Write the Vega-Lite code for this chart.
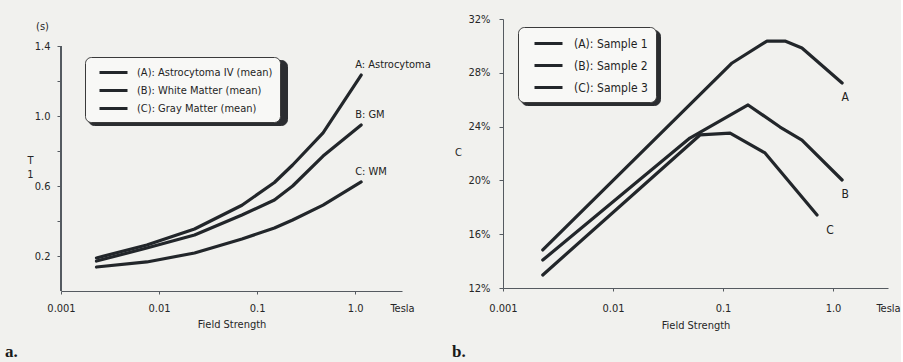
{
  "$schema": "https://vega.github.io/schema/vega-lite/v6.json",
  "background": "#f1f1ee",
  "padding": {"left": 5, "top": 13, "right": 0, "bottom": 3},
  "bounds": "flush",
  "spacing": 101,
  "datasets": {
    "t1": [
      {"series": "(A): Astrocytoma IV (mean)", "field": 0.0023, "t1": 0.189},
      {"series": "(A): Astrocytoma IV (mean)", "field": 0.0075, "t1": 0.263},
      {"series": "(A): Astrocytoma IV (mean)", "field": 0.023, "t1": 0.354},
      {"series": "(A): Astrocytoma IV (mean)", "field": 0.07, "t1": 0.49},
      {"series": "(A): Astrocytoma IV (mean)", "field": 0.15, "t1": 0.62},
      {"series": "(A): Astrocytoma IV (mean)", "field": 0.23, "t1": 0.72},
      {"series": "(A): Astrocytoma IV (mean)", "field": 0.47, "t1": 0.903},
      {"series": "(A): Astrocytoma IV (mean)", "field": 1.15, "t1": 1.234, "tag": "A: Astrocytoma"},
      {"series": "(B): White Matter (mean)", "field": 0.0023, "t1": 0.171},
      {"series": "(B): White Matter (mean)", "field": 0.0075, "t1": 0.246},
      {"series": "(B): White Matter (mean)", "field": 0.023, "t1": 0.32},
      {"series": "(B): White Matter (mean)", "field": 0.07, "t1": 0.434},
      {"series": "(B): White Matter (mean)", "field": 0.15, "t1": 0.52},
      {"series": "(B): White Matter (mean)", "field": 0.23, "t1": 0.6},
      {"series": "(B): White Matter (mean)", "field": 0.47, "t1": 0.771},
      {"series": "(B): White Matter (mean)", "field": 1.15, "t1": 0.949, "tag": "B: GM"},
      {"series": "(C): Gray Matter (mean)", "field": 0.0023, "t1": 0.137},
      {"series": "(C): Gray Matter (mean)", "field": 0.0075, "t1": 0.166},
      {"series": "(C): Gray Matter (mean)", "field": 0.023, "t1": 0.217},
      {"series": "(C): Gray Matter (mean)", "field": 0.07, "t1": 0.297},
      {"series": "(C): Gray Matter (mean)", "field": 0.15, "t1": 0.36},
      {"series": "(C): Gray Matter (mean)", "field": 0.23, "t1": 0.406},
      {"series": "(C): Gray Matter (mean)", "field": 0.47, "t1": 0.491},
      {"series": "(C): Gray Matter (mean)", "field": 1.15, "t1": 0.623, "tag": "C: WM"}
    ],
    "conc": [
      {"sample": "(A): Sample 1", "field": 0.0023, "c": 14.83},
      {"sample": "(A): Sample 1", "field": 0.121, "c": 28.73},
      {"sample": "(A): Sample 1", "field": 0.251, "c": 30.36},
      {"sample": "(A): Sample 1", "field": 0.366, "c": 30.36},
      {"sample": "(A): Sample 1", "field": 0.522, "c": 29.84},
      {"sample": "(A): Sample 1", "field": 1.21, "c": 27.24, "tag": "A"},
      {"sample": "(B): Sample 2", "field": 0.0023, "c": 14.08},
      {"sample": "(B): Sample 2", "field": 0.05, "c": 23.15},
      {"sample": "(B): Sample 2", "field": 0.169, "c": 25.61},
      {"sample": "(B): Sample 2", "field": 0.33, "c": 23.97},
      {"sample": "(B): Sample 2", "field": 0.522, "c": 23.0},
      {"sample": "(B): Sample 2", "field": 1.21, "c": 20.03, "tag": "B"},
      {"sample": "(C): Sample 3", "field": 0.0023, "c": 12.97},
      {"sample": "(C): Sample 3", "field": 0.0618, "c": 23.38},
      {"sample": "(C): Sample 3", "field": 0.116, "c": 23.52},
      {"sample": "(C): Sample 3", "field": 0.241, "c": 22.04},
      {"sample": "(C): Sample 3", "field": 0.716, "c": 17.43, "tag": "C"}
    ]
  },
  "config": {
    "view": {"stroke": null},
    "font": "DejaVu Sans Condensed, sans-serif",
    "axis": {
      "labelFont": "DejaVu Sans Condensed, sans-serif",
      "titleFont": "DejaVu Sans Condensed, sans-serif",
      "labelFontSize": 11,
      "titleFontSize": 11,
      "titleFontWeight": "normal",
      "labelColor": "#262626",
      "titleColor": "#262626",
      "domainColor": "#555a60",
      "tickColor": "#555a60",
      "grid": false,
      "labelFlush": false,
      "labelOverlap": false
    },
    "text": {"font": "DejaVu Sans Condensed, sans-serif", "color": "#222"}
  },
  "resolve": {
    "scale": {"color": "independent", "opacity": "independent"},
    "legend": {"color": "independent", "opacity": "independent"}
  },
  "hconcat": [
    {
      "width": 341,
      "height": 272,
      "data": {"name": "t1"},
      "title": {"text": "a.", "orient": "bottom", "anchor": "start", "frame": "group", "dx": -56, "offset": 15, "font": "Liberation Serif", "fontSize": 17, "fontWeight": "bold", "color": "#1a1a1a"},
      "resolve": {"axis": {"y": "independent"}},
      "layer": [
        {
          "mark": {"type": "rule", "color": "#555a60", "strokeWidth": 1},
          "encoding": {
            "x": {"datum": 0.001, "type": "quantitative", "scale": {"type": "log", "domain": [0.001, 3], "nice": false}},
            "y": {"datum": 0, "type": "quantitative", "scale": {"domain": [0, 1.5543], "nice": false, "zero": false},
              "axis": {"title": ["T", "1"], "orient": "left", "titleAngle": 0, "titleX": -31, "titleY": 141, "titleAlign": "center", "titleBaseline": "middle", "titleLineHeight": 14, "labels": false, "ticks": false, "domain": false}},
            "y2": {"datum": 1.4}
          }
        },
        {
          "mark": {"type": "line", "strokeWidth": 3.2, "strokeJoin": "round", "strokeCap": "round"},
          "encoding": {
            "x": {"field": "field", "type": "quantitative", "scale": {"type": "log", "domain": [0.001, 3], "nice": false},
              "axis": {"title": "Field Strength", "values": [0.001, 0.01, 0.1, 1, 3], "format": ".3~f",
                "labelExpr": "datum.value > 2 ? 'Tesla' : (datum.value == 1 ? '1.0' : datum.label)",
                "tickSize": 3, "labelPadding": 8, "titlePadding": 5,
                "tickOpacity": {"condition": {"test": "datum.value > 2", "value": 0}, "value": 1}}},
            "y": {"field": "t1", "type": "quantitative", "scale": {"domain": [0, 1.5543], "nice": false, "zero": false},
              "axis": {"title": "(s)", "orient": "left", "titleAngle": 0, "titleX": -19, "titleY": 7, "titleAlign": "center", "titleBaseline": "middle",
                "values": [0.2, 0.4, 0.6, 0.8, 1.0, 1.2, 1.4],
                "labelExpr": "indexof(['0.4','0.8','1.2'], format(datum.value, '.1f')) >= 0 ? '' : format(datum.value, '.1f')",
                "tickSize": 4, "labelPadding": 7, "domain": false}},
            "color": {"field": "series", "type": "nominal", "scale": {"range": ["#22262a", "#22262a", "#22262a"]},
              "legend": {"orient": "none", "legendX": 24, "legendY": 38, "title": null, "zindex": 2,
                "symbolType": "M-2,0H2", "symbolSize": 196, "symbolStrokeWidth": 3, "symbolStrokeColor": "#22262a", "symbolFillColor": "transparent",
                "symbolOffset": 13, "labelOffset": 15, "padding": 7, "rowPadding": 3,
                "labelFont": "DejaVu Sans Condensed, sans-serif", "labelFontSize": 11, "labelColor": "#1f1f1f", "labelLimit": 0,
                "fillColor": "#f8f8f6", "strokeColor": "#3a3a3a", "cornerRadius": 6}}
          }
        },
        {
          "transform": [{"filter": "datum.tag"}],
          "mark": {"type": "text", "align": "left", "baseline": "middle", "dx": -6, "dy": -10, "fontSize": 11},
          "encoding": {
            "x": {"field": "field", "type": "quantitative", "title": "Field Strength"},
            "y": {"field": "t1", "type": "quantitative", "axis": null},
            "text": {"field": "tag"},
            "opacity": {"field": "series", "type": "ordinal",
              "scale": {"domain": ["(A): Astrocytoma IV (mean)", "(B): White Matter (mean)", "(C): Gray Matter (mean)"], "range": [1, 1, 1]},
              "legend": {"orient": "none", "direction": "vertical", "legendX": 27, "legendY": 41, "title": null, "zindex": 1,
                "symbolType": "M-2,0H2", "symbolSize": 196, "symbolStrokeWidth": 3, "symbolStrokeColor": "#2b2d30", "symbolFillColor": "transparent",
                "symbolOffset": 13, "labelOffset": 155, "padding": 7, "rowPadding": 3,
                "labelExpr": "''", "labelFontSize": 11, "labelColor": "#2b2d30", "labelLimit": 0,
                "fillColor": "#2b2d30", "strokeColor": "#2b2d30", "cornerRadius": 6}}
          }
        }
      ]
    },
    {
      "width": 385,
      "height": 269,
      "data": {"name": "conc"},
      "title": {"text": "b.", "orient": "bottom", "anchor": "start", "frame": "group", "dx": -51, "offset": 14, "font": "Liberation Serif", "fontSize": 17, "fontWeight": "bold", "color": "#1a1a1a"},
      "layer": [
        {
          "mark": {"type": "line", "strokeWidth": 3.2, "strokeJoin": "round", "strokeCap": "round"},
          "encoding": {
            "x": {"field": "field", "type": "quantitative", "scale": {"type": "log", "domain": [0.001, 3.1623], "nice": false},
              "axis": {"title": "Field Strength", "values": [0.001, 0.01, 0.1, 1, 3.1623], "format": ".3~f",
                "labelExpr": "datum.value > 2 ? 'Tesla' : (datum.value == 1 ? '1.0' : datum.label)",
                "tickSize": 3, "labelPadding": 11, "titlePadding": 6,
                "tickOpacity": {"condition": {"test": "datum.value > 2", "value": 0}, "value": 1}}},
            "y": {"field": "c", "type": "quantitative", "scale": {"domain": [12, 32], "nice": false, "zero": false},
              "axis": {"title": "C", "titleAngle": 0, "titleX": -45, "titleY": 133, "titleAlign": "center", "titleBaseline": "middle",
                "values": [12, 14, 16, 18, 20, 22, 24, 26, 28, 30, 32],
                "labelExpr": "datum.value % 4 == 0 ? datum.value + '%' : ''",
                "tickSize": 4, "labelPadding": 9}},
            "color": {"field": "sample", "type": "nominal", "scale": {"range": ["#22262a", "#22262a", "#22262a"]},
              "legend": {"orient": "none", "legendX": 15, "legendY": 8, "title": null, "zindex": 2,
                "symbolType": "M-2,0H2", "symbolSize": 196, "symbolStrokeWidth": 3, "symbolStrokeColor": "#22262a", "symbolFillColor": "transparent",
                "symbolOffset": 14, "labelOffset": 17, "padding": 8, "rowPadding": 7,
                "labelFont": "DejaVu Sans Condensed, sans-serif", "labelFontSize": 12, "labelColor": "#1f1f1f", "labelLimit": 0,
                "fillColor": "#f8f8f6", "strokeColor": "#3a3a3a", "cornerRadius": 6}}
          }
        },
        {
          "transform": [{"filter": "datum.tag == 'A' || datum.tag == 'B'"}],
          "mark": {"type": "text", "align": "center", "baseline": "middle", "dx": 3, "dy": 14, "fontSize": 12},
          "encoding": {
            "x": {"field": "field", "type": "quantitative"},
            "y": {"field": "c", "type": "quantitative"},
            "text": {"field": "tag"},
            "opacity": {"field": "sample", "type": "ordinal",
              "scale": {"domain": ["(A): Sample 1", "(B): Sample 2", "(C): Sample 3"], "range": [1, 1, 1]},
              "legend": {"orient": "none", "direction": "vertical", "legendX": 18, "legendY": 11, "title": null, "zindex": 1,
                "symbolType": "M-2,0H2", "symbolSize": 196, "symbolStrokeWidth": 3, "symbolStrokeColor": "#2b2d30", "symbolFillColor": "transparent",
                "symbolOffset": 14, "labelOffset": 92, "padding": 8, "rowPadding": 7,
                "labelExpr": "''", "labelFontSize": 12, "labelColor": "#2b2d30", "labelLimit": 0,
                "fillColor": "#2b2d30", "strokeColor": "#2b2d30", "cornerRadius": 6}}
          }
        },
        {
          "transform": [{"filter": "datum.tag == 'C'"}],
          "mark": {"type": "text", "align": "center", "baseline": "middle", "dx": 13, "dy": 15, "fontSize": 12},
          "encoding": {
            "x": {"field": "field", "type": "quantitative"},
            "y": {"field": "c", "type": "quantitative"},
            "text": {"field": "tag"}
          }
        }
      ]
    }
  ]
}
